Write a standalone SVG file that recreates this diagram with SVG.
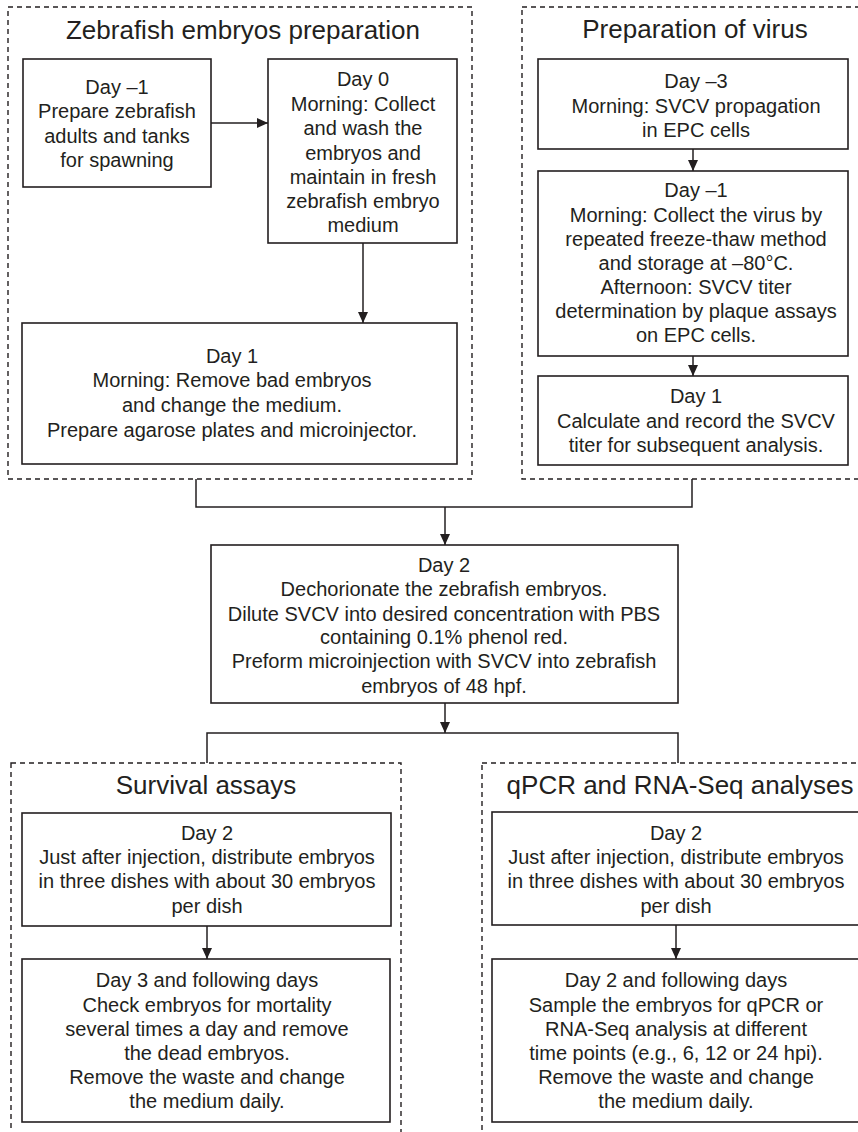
<svg xmlns="http://www.w3.org/2000/svg" width="858" height="1132" viewBox="0 0 858 1132">
<defs>
<style>
.panel{fill:none;stroke:#231f20;stroke-width:1.4;stroke-dasharray:5,4}
.box{fill:#fff;stroke:#231f20;stroke-width:1.6}
.ln{fill:none;stroke:#231f20;stroke-width:1.5}
.title{font-family:"Liberation Sans",Arial,sans-serif;font-size:26px;fill:#231f20;text-anchor:middle}
.t{font-family:"Liberation Sans",Arial,sans-serif;font-size:20px;fill:#231f20;text-anchor:middle}
</style>
<marker id="ah" markerUnits="userSpaceOnUse" markerWidth="11" markerHeight="10" refX="11" refY="5" orient="auto">
<path d="M0,0 L11,5 L0,10 z" fill="#231f20"/>
</marker>
</defs>
<rect width="858" height="1132" fill="#fff"/>

<g id="panel-zebrafish">
<rect class="panel" x="8" y="7" width="464" height="472"/>
<text class="title" x="243" y="39">Zebrafish embryos preparation</text>
</g>
<g id="panel-virus">
<rect class="panel" x="522" y="7" width="360" height="472"/>
<text class="title" x="695" y="38">Preparation of virus</text>
</g>
<g id="panel-survival">
<rect class="panel" x="11" y="763" width="390" height="400"/>
<text class="title" x="206" y="794">Survival assays</text>
</g>
<g id="panel-qpcr">
<rect class="panel" x="482" y="763" width="400" height="400"/>
<text class="title" x="680" y="794">qPCR and RNA-Seq analyses</text>
</g>

<g id="connectors">
<line class="ln" x1="211" y1="123" x2="268" y2="123" marker-end="url(#ah)"/>
<line class="ln" x1="363" y1="243" x2="363" y2="323" marker-end="url(#ah)"/>
<line class="ln" x1="693" y1="149" x2="693" y2="171" marker-end="url(#ah)"/>
<line class="ln" x1="693" y1="356" x2="693" y2="376" marker-end="url(#ah)"/>
<path class="ln" d="M196,479 V507 H692 V479"/>
<line class="ln" x1="445" y1="507" x2="445" y2="545" marker-end="url(#ah)"/>
<line class="ln" x1="445" y1="703" x2="445" y2="733" marker-end="url(#ah)"/>
<path class="ln" d="M207,763 V733 H678 V763"/>
<line class="ln" x1="207" y1="926" x2="207" y2="959" marker-end="url(#ah)"/>
<line class="ln" x1="676" y1="925" x2="676" y2="959" marker-end="url(#ah)"/>
</g>

<g id="n-day-1">
<rect class="box" x="23" y="59" width="188" height="128"/>
<text class="t" x="117" y="94">Day –1</text>
<text class="t" x="117" y="118">Prepare zebrafish</text>
<text class="t" x="117" y="143">adults and tanks</text>
<text class="t" x="117" y="167">for spawning</text>
</g>
<g id="n-day0">
<rect class="box" x="268" y="59" width="189" height="184"/>
<text class="t" x="363" y="86">Day 0</text>
<text class="t" x="363" y="111">Morning: Collect</text>
<text class="t" x="363" y="135">and wash the</text>
<text class="t" x="363" y="160">embryos and</text>
<text class="t" x="363" y="184">maintain in fresh</text>
<text class="t" x="363" y="208">zebrafish embryo</text>
<text class="t" x="363" y="232">medium</text>
</g>
<g id="n-day1-left">
<rect class="box" x="22" y="323" width="435" height="141"/>
<text class="t" x="232" y="363">Day 1</text>
<text class="t" x="232" y="387">Morning: Remove bad embryos</text>
<text class="t" x="232" y="412">and change the medium.</text>
<text class="t" x="232" y="437">Prepare agarose plates and microinjector.</text>
</g>
<g id="n-day-3">
<rect class="box" x="538" y="59" width="310" height="90"/>
<text class="t" x="696" y="88">Day –3</text>
<text class="t" x="696" y="113">Morning: SVCV propagation</text>
<text class="t" x="696" y="137">in EPC cells</text>
</g>
<g id="n-day-1-virus">
<rect class="box" x="538" y="171" width="310" height="185"/>
<text class="t" x="696" y="197">Day –1</text>
<text class="t" x="696" y="222">Morning: Collect the virus by</text>
<text class="t" x="696" y="246">repeated freeze-thaw method</text>
<text class="t" x="696" y="270">and storage at –80°C.</text>
<text class="t" x="696" y="294">Afternoon: SVCV titer</text>
<text class="t" x="696" y="318">determination by plaque assays</text>
<text class="t" x="696" y="342">on EPC cells.</text>
</g>
<g id="n-day1-virus">
<rect class="box" x="538" y="376" width="310" height="89"/>
<text class="t" x="696" y="403">Day 1</text>
<text class="t" x="696" y="428">Calculate and record the SVCV</text>
<text class="t" x="696" y="452">titer for subsequent analysis.</text>
</g>
<g id="n-day2">
<rect class="box" x="211" y="545" width="467" height="158"/>
<text class="t" x="444" y="572">Day 2</text>
<text class="t" x="444" y="596">Dechorionate the zebrafish embryos.</text>
<text class="t" x="444" y="621">Dilute SVCV into desired concentration with PBS</text>
<text class="t" x="444" y="644">containing 0.1% phenol red.</text>
<text class="t" x="444" y="668">Preform microinjection with SVCV into zebrafish</text>
<text class="t" x="444" y="693">embryos of 48 hpf.</text>
</g>
<g id="n-survival-day2">
<rect class="box" x="22" y="813" width="369" height="113"/>
<text class="t" x="207" y="840">Day 2</text>
<text class="t" x="207" y="864">Just after injection, distribute embryos</text>
<text class="t" x="207" y="888">in three dishes with about 30 embryos</text>
<text class="t" x="207" y="913">per dish</text>
</g>
<g id="n-survival-day3">
<rect class="box" x="22" y="959" width="368" height="163"/>
<text class="t" x="207" y="987">Day 3 and following days</text>
<text class="t" x="207" y="1012">Check embryos for mortality</text>
<text class="t" x="207" y="1036">several times a day and remove</text>
<text class="t" x="207" y="1060">the dead embryos.</text>
<text class="t" x="207" y="1084">Remove the waste and change</text>
<text class="t" x="207" y="1108">the medium daily.</text>
</g>
<g id="n-qpcr-day2">
<rect class="box" x="492" y="812" width="380" height="113"/>
<text class="t" x="676" y="840">Day 2</text>
<text class="t" x="676" y="864">Just after injection, distribute embryos</text>
<text class="t" x="676" y="888">in three dishes with about 30 embryos</text>
<text class="t" x="676" y="913">per dish</text>
</g>
<g id="n-qpcr-day2-following">
<rect class="box" x="492" y="959" width="380" height="163"/>
<text class="t" x="676" y="987">Day 2 and following days</text>
<text class="t" x="676" y="1012">Sample the embryos for qPCR or</text>
<text class="t" x="676" y="1036">RNA-Seq analysis at different</text>
<text class="t" x="676" y="1060">time points (e.g., 6, 12 or 24 hpi).</text>
<text class="t" x="676" y="1084">Remove the waste and change</text>
<text class="t" x="676" y="1108">the medium daily.</text>
</g>
</svg>
